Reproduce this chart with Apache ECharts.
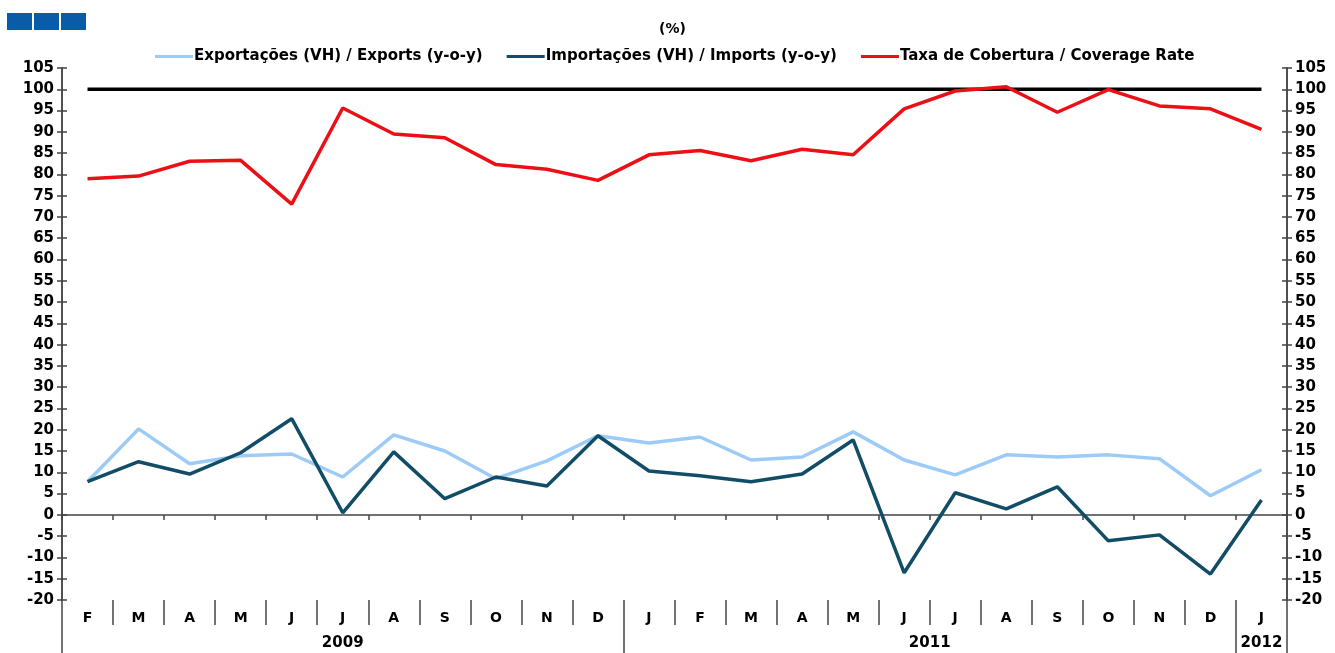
<!DOCTYPE html>
<html>
<head>
<meta charset="utf-8">
<script src="https://cdn.jsdelivr.net/npm/echarts@6/dist/echarts.min.js"></script>
<style>
    html, body { margin: 0; padding: 0; background: #fff; }
    #chart { width: 1335px; height: 653px; }
</style>
</head>
<body>
<div id="chart"></div>
<script>
// months Feb 2009 .. Jan 2012 (as labelled on the original)
var months = ['F','M','A','M','J','J','A','S','O','N','D',
              'J','F','M','A','M','J','J','A','S','O','N','D',
              'J'];
var yearLabels = { 5.5: '2009', 17: '2011', 23.5: '2012' };
var yearSeparators = [0, 11, 23, 24];

var exportsYoY = [7.8, 20.2, 12.0, 13.9, 14.3, 8.9, 18.8, 15.0, 8.5, 12.7, 18.6,
                  16.9, 18.3, 12.9, 13.6, 19.5, 12.9, 9.4, 14.1, 13.6, 14.1, 13.2, 4.5,
                  10.6];
var importsYoY = [7.8, 12.5, 9.6, 14.6, 22.6, 0.5, 14.8, 3.8, 8.9, 6.8, 18.6,
                  10.3, 9.2, 7.8, 9.6, 17.6, -13.6, 5.2, 1.4, 6.6, -6.1, -4.7, -13.9,
                  3.5];
var coverageRate = [79.0, 79.6, 83.1, 83.3, 73.0, 95.6, 89.5, 88.6, 82.3, 81.2, 78.6,
                    84.6, 85.6, 83.2, 85.9, 84.6, 95.4, 99.6, 100.6, 94.6, 99.9, 96.1, 95.4,
                    90.6];
var reference100 = months.map(function () { return 100; });

var txt = { fontFamily: 'DejaVu Sans, Arial, sans-serif', fontWeight: 'bold', color: '#000' };
var axisColor = '#444';

var myChart = echarts.init(document.getElementById('chart'));

function yAxisOpt(pos, inside, showLabel) {
    return {
        type: 'value',
        position: pos,
        min: -20,
        max: 105,
        interval: 5,
        splitLine: { show: false },
        axisLine: { show: true, lineStyle: { color: axisColor, width: 1.5 } },
        axisTick: { show: true, inside: inside, length: 5, lineStyle: { color: axisColor, width: 1.5 } },
        axisLabel: Object.assign({ show: showLabel, fontSize: 15, margin: 8 }, txt)
    };
}

var opt = {
    backgroundColor: '#fff',
    animation: false,
    title: {
        text: '(%)',
        left: 654,
        top: 17,
        textStyle: Object.assign({ fontSize: 14 }, txt)
    },
    legend: {
        top: 44,
        left: 150,
        itemGap: 24,
        itemWidth: 38,
        itemHeight: 3,
        icon: 'rect',
        textStyle: Object.assign({ fontSize: 15, padding: [0, 0, 0, -4] }, txt),
        data: ['Exportações (VH) / Exports (y-o-y)',
               'Importações (VH) / Imports (y-o-y)',
               'Taxa de Cobertura / Coverage Rate']
    },
    graphic: [
        { type: 'rect', left: 7, top: 13, shape: { width: 25, height: 17 }, style: { fill: '#0b5ca8' } },
        { type: 'rect', left: 34, top: 13, shape: { width: 25, height: 17 }, style: { fill: '#0b5ca8' } },
        { type: 'rect', left: 61, top: 13, shape: { width: 25, height: 17 }, style: { fill: '#0b5ca8' } }
    ],
    grid: { left: 62, right: 48, top: 68, bottom: 53, containLabel: false },
    xAxis: [
        {
            type: 'category',
            data: months,
            boundaryGap: true,
            axisLine: { show: true, onZero: true, lineStyle: { color: axisColor, width: 1.5 } },
            axisTick: { show: true, length: 5, lineStyle: { color: axisColor, width: 1.5 } },
            axisLabel: { show: false }
        },
        {
            type: 'category',
            data: months,
            position: 'bottom',
            boundaryGap: true,
            axisLine: { show: false, onZero: false },
            axisTick: { show: true, length: 25, lineStyle: { color: axisColor, width: 1.5 } },
            axisLabel: Object.assign({ show: true, fontSize: 14, margin: 11 }, txt)
        },
        {
            type: 'value',
            position: 'bottom',
            min: 0,
            max: 24,
            splitLine: { show: false },
            axisLine: { show: false, onZero: false },
            axisTick: { show: true, length: 53, customValues: yearSeparators, lineStyle: { color: axisColor, width: 1.5 } },
            axisLabel: Object.assign({
                show: true, fontSize: 15, margin: 36,
                customValues: [5.5, 17, 23.5],
                formatter: function (v) { return yearLabels[v] || ''; }
            }, txt)
        }
    ],
    yAxis: [
        yAxisOpt('left', false, true),
        yAxisOpt('right', false, true),
        yAxisOpt('left', true, false),
        yAxisOpt('right', true, false)
    ],
    series: [
        {
            name: 'Exportações (VH) / Exports (y-o-y)',
            type: 'line',
            data: exportsYoY,
            symbol: 'none',
            color: '#9dcbf7',
            lineStyle: { width: 3.5 },
            z: 3
        },
        {
            name: 'Importações (VH) / Imports (y-o-y)',
            type: 'line',
            data: importsYoY,
            symbol: 'none',
            color: '#124d68',
            lineStyle: { width: 3.5 },
            z: 4
        },
        {
            name: 'Taxa de Cobertura / Coverage Rate',
            type: 'line',
            data: coverageRate,
            symbol: 'none',
            color: '#ec1016',
            lineStyle: { width: 3.5 },
            z: 4
        },
        {
            name: '100',
            type: 'line',
            data: reference100,
            symbol: 'none',
            color: '#000',
            lineStyle: { width: 3.5 },
            z: 3
        }
    ]
};

myChart.setOption(opt);
</script>
</body>
</html>
